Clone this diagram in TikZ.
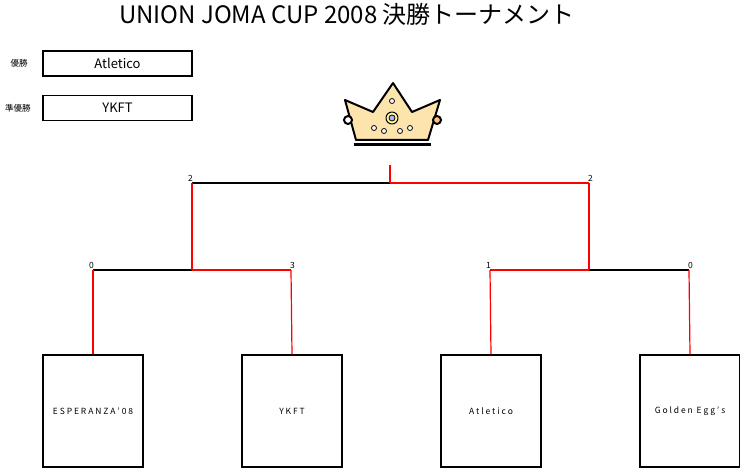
\documentclass[tikz,border=0pt]{standalone}
\usepackage{fontspec}
\setmainfont{Noto Sans CJK JP}
\usetikzlibrary{positioning}
\tikzset{
  team/.style={draw, line width=1.4pt, minimum width=100pt, minimum height=112pt, inner sep=0pt, font=\fontsize{8.5}{10}\selectfont},
  result/.style={draw, line width=1.4pt, minimum width=149pt, minimum height=25pt, inner sep=0pt, font=\fontsize{13}{15}\selectfont},
  win/.style={red, line width=1.2pt},
  lose/.style={black, line width=1.2pt},
  score/.style={font=\fontsize{8.5}{10}\selectfont, inner sep=1pt}
}
\begin{document}
\begin{tikzpicture}[x=1pt,y=-1pt]
  \useasboundingbox (0,0) rectangle (740,468);
  \node (title) at (347,14) {\fontsize{24}{28}\selectfont UNION JOMA CUP 2008 決勝トーナメント};
  % 優勝 / 準優勝
  \node[result] (champ) at (117.5,63.5) {Atletico};
  \node[result] (second) at (117.5,108) {YKFT};
  \node[font=\fontsize{8.5}{10}\selectfont] (champL) at (19,63.5) {優勝};
  \node[font=\fontsize{8.5}{10}\selectfont, inner sep=0pt] (secondL) at (18,108) {準優勝};
  % 王冠
  \begin{scope}[line width=2pt, line join=round]
    \fill[yellow!35!orange!30] (345,100) -- (373,112) -- (393,83) -- (412,112) -- (440,100) -- (428,140) -- (356,140) -- cycle;
    \draw (345,100) -- (373,112) -- (393,83) -- (412,112) -- (440,100) -- (428,140) -- (356,140) -- cycle;
    \draw[line width=3pt] (354,145) -- (431,145);
    \draw[fill=white] (348,120) circle (4pt);
    \draw[fill=orange!50] (437,120) circle (4pt);
    \draw[fill=yellow!40, line width=1pt] (392,118) circle (6pt);
    \draw[fill=blue!30, line width=0.8pt] (392,118) circle (3pt);
    \foreach \p in {(392,101),(374,128),(410,128),(384,131),(400,131)}
      \draw[fill=white, line width=0.8pt] \p circle (2.5pt);
  \end{scope}
  % チーム
  \node[team] (t1) at (93,411) {E S P E R A N Z A ' 0 8};
  \node[team] (t2) at (292,411) {Y K F T};
  \node[team] (t3) at (491,411) {A t l e t i c o};
  \node[team] (t4) at (690,411) {G o l d e n\ \ E g g ' s};
  \coordinate (c1) at (93,270);
  \coordinate (c2) at (291,270);
  \coordinate (c3) at (490,270);
  \coordinate (c4) at (689,270);
  \coordinate (s1) at (192,270);
  \coordinate (s2) at (589,270);
  \coordinate (f1) at (192,183);
  \coordinate (f2) at (589,183);
  \coordinate (top) at (390,183);
  \coordinate (stem) at (390,165);
  % 線
  \draw[lose] (c1) -- (s1);
  \draw[win] (s1) -- (c2);
  \draw[win] (c3) -- (s2);
  \draw[lose] (s2) -- (c4);
  \draw[lose] (f1) -- (top);
  \draw[win] (top) -- (f2);
  \draw[win] (t1.north) -- (c1);
  \draw[win] (t2.north) -- (c2);
  \draw[win] (t3.north) -- (c3);
  \draw[win] (t4.north) -- (c4);
  \draw[win] (s1) -- (f1);
  \draw[win] (s2) -- (f2);
  \draw[win] (top) -- (stem);
  % 得点
  \node[score, above left=0pt and -2pt of f1] (n1) {2};
  \node[score, above right=0pt and -2pt of f2] (n2) {2};
  \node[score, above left=0pt and -2pt of c1] (n3) {0};
  \node[score, above right=0pt and -2pt of c2] (n4) {3};
  \node[score, above left=0pt and -2pt of c3] (n5) {1};
  \node[score, above right=0pt and -2pt of c4] (n6) {0};
\end{tikzpicture}
\end{document}
